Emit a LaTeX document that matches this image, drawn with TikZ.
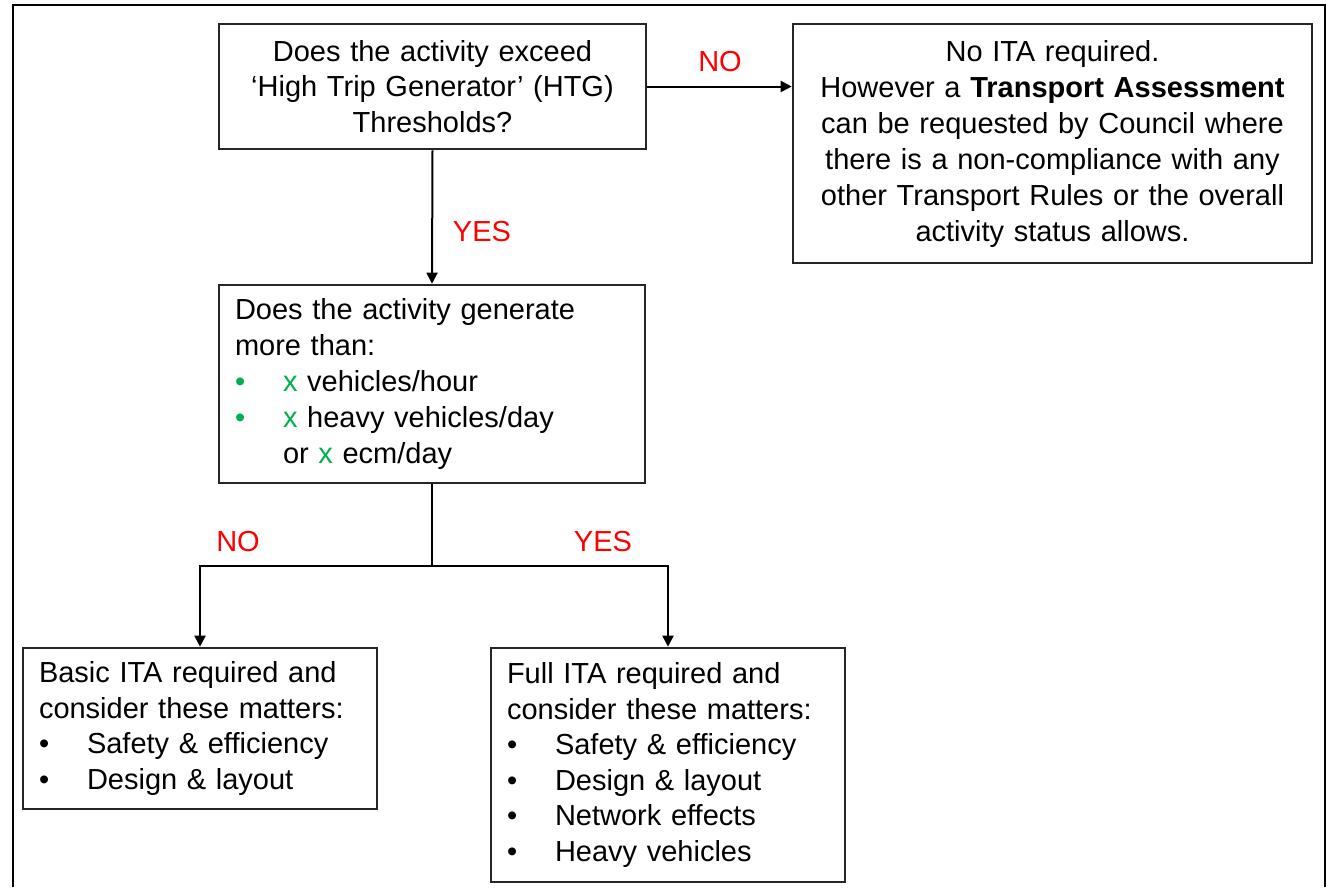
\documentclass[tikz,border=0pt]{standalone}
\usepackage{fontspec}
\setmainfont{Liberation Sans}
\usetikzlibrary{arrows.meta}
\definecolor{xgreen}{RGB}{0,176,80}
\definecolor{lblred}{RGB}{255,0,0}
\newcommand\bul[1][black]{\makebox[48pt][l]{\textcolor{#1}{•}}}
\newcommand\gx{\textcolor{xgreen}{x}}
\tikzset{
  box/.style={draw=black!85, line width=2.6pt, rectangle, inner xsep=15pt, inner ysep=0pt,
              font=\fontsize{29}{35.5}\selectfont},
  lbl/.style={text=lblred, inner sep=0pt, font=\fontsize{29}{35}\selectfont},
  link/.style={line width=2pt, draw=black},
  arr/.style={link, -{Triangle[length=11pt,width=11pt]}},
  frame/.style={line width=2.4pt, draw=black}
}
\begin{document}
\begin{tikzpicture}[x=1pt,y=-1pt]
\useasboundingbox (0,0) rectangle (1326,887);
% page frame, open at the bottom
\draw[frame] (13,887) -- (13,5) -- (1325,5) -- (1325,887);

% decision boxes
\node[box, minimum width=427pt, minimum height=125pt, text width=395pt, align=center]
  (htg) at (432.5,86.5)
  {Does the activity exceed\\ ‘High Trip Generator’ (HTG)\\ Thresholds?};

\node[box, minimum width=519pt, minimum height=239pt, text width=487pt, align=center,
      font=\fontsize{29}{36}\selectfont]
  (noita) at (1052.5,143.5)
  {No ITA required.\\ However a \textbf{Transport Assessment}\\ can be requested by Council where\\
   there is a non-compliance with any\\ other Transport Rules or the overall\\ activity status allows.};

\node[box, minimum width=426pt, minimum height=198pt, text width=394pt, align=left,
      font=\fontsize{29}{36}\selectfont]
  (gen) at (432,384)
  {Does the activity generate\\ more than:\\
   \bul[xgreen]\gx{} vehicles/hour\\
   \bul[xgreen]\gx{} heavy vehicles/day\\
   \hspace*{48pt}or \gx{} ecm/day};

% outcome boxes
\node[box, minimum width=354pt, minimum height=161pt, text width=322pt, align=left]
  (basic) at (200,728.5)
  {Basic ITA required and\\ consider these matters:\\
   \bul Safety \& efficiency\\ \bul Design \& layout};

\node[box, minimum width=354pt, minimum height=234pt, text width=322pt, align=left]
  (full) at (668,765)
  {Full ITA required and\\ consider these matters:\\
   \bul Safety \& efficiency\\ \bul Design \& layout\\
   \bul Network effects\\ \bul Heavy vehicles};

% connectors
\coordinate (split) at (432,566);
\draw[arr] (htg.east) -- (htg.east -| noita.west);
\draw[arr] (htg.south) -- (gen.north);
\draw[link] (gen.south) -- (split);
\draw[arr] (split) -| (basic.north);
\draw[arr] (split) -| (full.north);

% branch labels
\node[lbl] (lno1) at (720,62) {NO};
\node[lbl] (lyes1) at (482,232) {YES};
\node[lbl] (lno2) at (238,542) {NO};
\node[lbl] (lyes2) at (603,542) {YES};
\end{tikzpicture}
\end{document}
